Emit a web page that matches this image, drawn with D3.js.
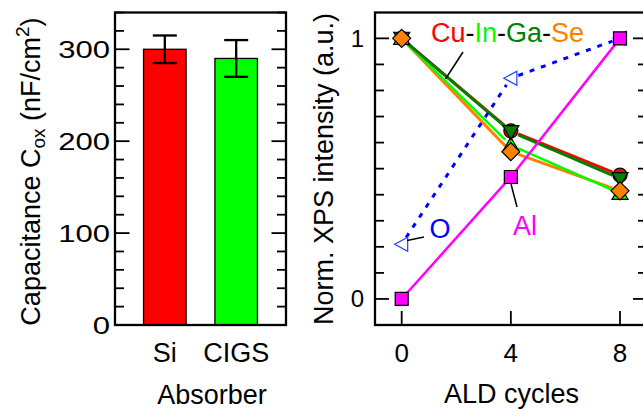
<!DOCTYPE html>
<html><head><meta charset="utf-8">
<script src="https://cdn.jsdelivr.net/npm/d3@7"></script>
<style>body{margin:0;background:#fff}svg{display:block;font-family:"Liberation Sans",Arial,sans-serif}</style>
</head><body><svg id="c" width="643" height="412"></svg>
<script>
// ---- data ----
const absorbers = ["Si", "CIGS"];
const capValues = [300, 290];
const capErrors = [15, 20];
const barColors = ["#ff0000", "#00ff00"];
const capTicks = [0, 100, 200, 300];

const cycles = [0, 4, 8];
const cycleTicks = [0, 4, 8];
const xpsTicks = [0, 1];
const cuVals = [1.0, 0.645, 0.475];
const inVals = [1.0, 0.59, 0.405];
const gaVals = [1.0, 0.642, 0.462];
const seVals = [1.0, 0.565, 0.415];
const oVals = [0.21, 0.847, 1.0];
const alVals = [0.0, 0.468, 1.0];

const svg = d3.select("#c");

// ================= left panel =================
const L = {x0: 115, x1: 286, y0: 12.5, y1: 325};
const yC = d3.scaleLinear().domain([0, 340]).range([L.y1, L.y0]);
const xB = d3.scaleBand().domain(absorbers).range([L.x0, L.x1]).paddingInner(0.404).paddingOuter(0.4);

const gl = svg.append("g");
absorbers.forEach((a, i) => {
  gl.append("rect").attr("x", xB(a)).attr("y", yC(capValues[i]))
    .attr("width", xB.bandwidth()).attr("height", yC(0) - yC(capValues[i]))
    .attr("fill", barColors[i]).attr("stroke", "#000").attr("stroke-width", 1.3);
  const cx = xB(a) + xB.bandwidth() / 2;
  const hi = yC(capValues[i] + capErrors[i]), lo = yC(capValues[i] - capErrors[i]);
  gl.append("line").attr("x1", cx).attr("x2", cx).attr("y1", hi).attr("y2", lo).attr("stroke", "#000").attr("stroke-width", 2.3);
  [hi, lo].forEach(yy => gl.append("line").attr("x1", cx - 12).attr("x2", cx + 12).attr("y1", yy).attr("y2", yy).attr("stroke", "#000").attr("stroke-width", 2.3));
});
d3.range(0, 341, 20).forEach(v => {
  const major = v % 100 === 0;
  const len = major ? 14.5 : 9;
  const y = yC(v);
  gl.append("line").attr("x1", L.x0).attr("x2", L.x0 + len).attr("y1", y).attr("y2", y).attr("stroke", "#000").attr("stroke-width", 1.8);
  gl.append("line").attr("x1", L.x1).attr("x2", L.x1 - len).attr("y1", y).attr("y2", y).attr("stroke", "#000").attr("stroke-width", 1.8);
});
capTicks.forEach(v => {
  gl.append("text").attr("transform", `translate(110,${yC(v) + 8.5}) scale(1.35,1)`).attr("text-anchor", "end")
    .attr("font-size", 23).text(v);
});
gl.append("rect").attr("x", L.x0).attr("y", L.y0).attr("width", L.x1 - L.x0).attr("height", L.y1 - L.y0)
  .attr("fill", "none").attr("stroke", "#000").attr("stroke-width", 2.3);
absorbers.forEach(a => {
  gl.append("text").attr("x", xB(a) + xB.bandwidth() / 2).attr("y", 362).attr("text-anchor", "middle")
    .attr("font-size", 27).text(a);
});
gl.append("text").attr("x", 212).attr("y", 404).attr("text-anchor", "middle").attr("font-size", 27).text("Absorber");
const ty = gl.append("text").attr("transform", "translate(39.5,171.5) rotate(-90)").attr("text-anchor", "middle").attr("font-size", 27);
ty.append("tspan").text("Capacitance C");
ty.append("tspan").attr("font-size", 19).attr("dy", 5).text("ox");
ty.append("tspan").attr("dy", -5).text(" (nF/cm");
ty.append("tspan").attr("font-size", 19).attr("dy", -11).text("2");
ty.append("tspan").attr("dy", 11).text(")");

// ================= right panel =================
const R = {x0: 375, x1: 647, y0: 12.5, y1: 325};
const xR = d3.scaleLinear().domain([-1, 9]).range([374.4, 647.3]);
const yR = d3.scaleLinear().domain([-0.1, 1.1]).range([325, 12.3]);
const gr = svg.append("g");

d3.range(0, 11).forEach(k => {
  const v = k / 10;
  const major = k === 0 || k === 10;
  const len = major ? 14 : 9;
  const y = yR(v);
  gr.append("line").attr("x1", R.x0).attr("x2", R.x0 + len).attr("y1", y).attr("y2", y).attr("stroke", "#000").attr("stroke-width", 1.8);
  gr.append("line").attr("x1", R.x1).attr("x2", R.x1 - len).attr("y1", y).attr("y2", y).attr("stroke", "#000").attr("stroke-width", 1.8);
});
cycleTicks.forEach(v => {
  gr.append("line").attr("x1", xR(v)).attr("x2", xR(v)).attr("y1", R.y1).attr("y2", R.y1 - 14).attr("stroke", "#000").attr("stroke-width", 1.8);
  gr.append("text").attr("x", xR(v)).attr("y", 362).attr("text-anchor", "middle").attr("font-size", 26).text(v);
});
xpsTicks.forEach(v => {
  gr.append("text").attr("x", 364).attr("y", yR(v) + 8.5).attr("text-anchor", "end").attr("font-size", 24).text(v);
});

function segs(vals, gap) {
  const pts = cycles.map((c, i) => [xR(c), yR(vals[i])]);
  const out = [];
  for (let i = 0; i < pts.length - 1; i++) {
    const [xa, ya] = pts[i], [xb, yb] = pts[i + 1];
    const d = Math.hypot(xb - xa, yb - ya), ux = (xb - xa) / d, uy = (yb - ya) / d;
    out.push([[xa + ux * gap, ya + uy * gap], [xb - ux * gap, yb - uy * gap]]);
  }
  return out;
}
const line = d3.line();
function drawLine(vals, color, w, dash, gap) {
  segs(vals, gap).forEach(s => {
    const p = gr.append("path").attr("d", line(s)).attr("fill", "none").attr("stroke", color).attr("stroke-width", w);
    if (dash) p.attr("stroke-dasharray", dash);
  });
}
drawLine(cuVals, "#ff0000", 3, null, 8);
drawLine(seVals, "#ff8000", 3, null, 8);
drawLine(inVals, "#00ff00", 2.5, null, 8);
drawLine(gaVals, "#007f00", 3, null, 8);
drawLine(oVals, "#0000ff", 3, "5,7", 8);
drawLine(alVals, "#ff00ff", 2.5, null, 8);

function mk(type, cx, cy, fill, stroke, sw) {
  let d;
  if (type === "circle") {
    gr.append("circle").attr("cx", cx).attr("cy", cy).attr("r", 7).attr("fill", fill).attr("stroke", stroke).attr("stroke-width", sw);
    return;
  }
  if (type === "square") d = `M${cx-6.5},${cy-6.5}h13v13h-13z`;
  if (type === "diamond") d = `M${cx},${cy-9}L${cx+9},${cy}L${cx},${cy+9}L${cx-9},${cy}Z`;
  if (type === "tup") d = `M${cx},${cy-8}L${cx+8},${cy+6}L${cx-8},${cy+6}Z`;
  if (type === "tdown") d = `M${cx},${cy+8}L${cx+8},${cy-6}L${cx-8},${cy-6}Z`;
  if (type === "tleft") d = `M${cx-7},${cy}L${cx+6},${cy-7}L${cx+6},${cy+7}Z`;
  gr.append("path").attr("d", d).attr("fill", fill).attr("stroke", stroke).attr("stroke-width", sw);
}
cycles.forEach((c, i) => mk("tleft", xR(c), yR(oVals[i]), "#fff", "#2040ff", 1.2));
cycles.forEach((c, i) => mk("circle", xR(c), yR(cuVals[i]), "#ff0000", "#000", 1.2));
cycles.forEach((c, i) => mk("tup", xR(c), yR(inVals[i]), "#00ff00", "#000", 1.2));
cycles.forEach((c, i) => mk("tdown", xR(c), yR(gaVals[i]), "#007f00", "#000", 1.2));
cycles.forEach((c, i) => mk("diamond", xR(c), yR(seVals[i]), "#ff8000", "#000", 1.2));
cycles.forEach((c, i) => mk("square", xR(c), yR(alVals[i]), "#ff00ff", "#000", 1.2));

gr.append("rect").attr("x", R.x0).attr("y", R.y0).attr("width", R.x1 - R.x0).attr("height", R.y1 - R.y0)
  .attr("fill", "none").attr("stroke", "#000").attr("stroke-width", 2.3);

const ann = gr.append("text").attr("x", 431).attr("y", 42).attr("font-size", 27);
[["Cu", "#ff0000"], ["-", "#000"], ["In", "#00ff00"], ["-", "#000"], ["Ga", "#007f00"], ["-", "#000"], ["Se", "#ff8000"]]
  .forEach(([t, c]) => ann.append("tspan").attr("fill", c).text(t));
gr.append("line").attr("x1", 463).attr("y1", 52).attr("x2", 445.5).attr("y2", 79).attr("stroke", "#000").attr("stroke-width", 1.5);
gr.append("text").attr("x", 440).attr("y", 238).attr("text-anchor", "middle").attr("font-size", 27).attr("fill", "#0000ff").text("O");
gr.append("line").attr("x1", 424).attr("y1", 237).attr("x2", 407).attr("y2", 240.5).attr("stroke", "#000").attr("stroke-width", 1.5);
gr.append("text").attr("x", 525).attr("y", 235).attr("text-anchor", "middle").attr("font-size", 27).attr("fill", "#ff00ff").text("Al");
gr.append("line").attr("x1", 511).attr("y1", 184).attr("x2", 517).attr("y2", 207).attr("stroke", "#000").attr("stroke-width", 1.5);

gr.append("text").attr("x", 511.5).attr("y", 403).attr("text-anchor", "middle").attr("font-size", 27).text("ALD cycles");
gr.append("text").attr("transform", "translate(332.5,169) rotate(-90)").attr("text-anchor", "middle").attr("font-size", 27).text("Norm. XPS intensity (a.u.)");
</script></body></html>
